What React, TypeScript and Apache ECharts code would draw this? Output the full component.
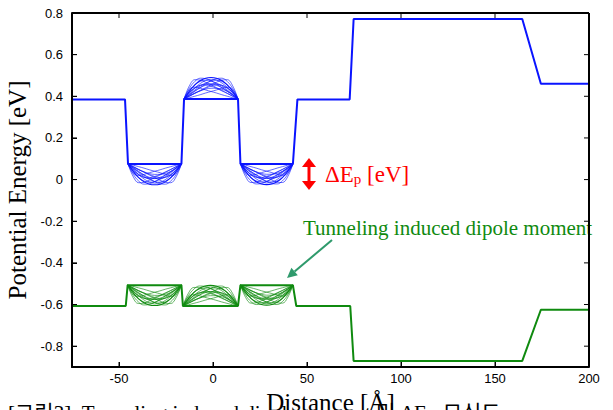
import React, { useEffect, useRef } from "react";
import * as echarts from "echarts";

// Main band profiles [distance Å, energy eV]
const blueBand: [number, number][] = [
  [-75, 0.385], [-46.8, 0.385], [-45.2, 0.075], [-16.8, 0.075], [-15.4, 0.387],
  [13.3, 0.387], [14.6, 0.075], [42.5, 0.075], [44.9, 0.385], [72.7, 0.385],
  [74.8, 0.771], [164.5, 0.771], [174.4, 0.46], [200, 0.46],
];
const greenBand: [number, number][] = [
  [-75, -0.607], [-46.4, -0.607], [-45.4, -0.507], [-16.8, -0.507], [-16, -0.607],
  [13.3, -0.607], [14.6, -0.507], [42.5, -0.507], [44.3, -0.607], [73, -0.607],
  [74.8, -0.871], [164.5, -0.871], [174.4, -0.625], [200, -0.625],
];

// Bowls / humps of the tunneling wavefunction family: [x0, x1, base, extreme]
const blueBowls: [number, number, number, number][] = [
  [-45.2, -16.8, 0.075, -0.025],
  [-15.4, 13.3, 0.387, 0.49],
  [14.6, 42.5, 0.075, -0.024],
];
const greenBowls: [number, number, number, number][] = [
  [-45.4, -16.8, -0.507, -0.605],
  [-16, 13.3, -0.607, -0.508],
  [14.6, 42.5, -0.507, -0.603],
];

// Normalised arc profiles (11 samples across each bowl)
const envelope = [0, 0.36, 0.66, 0.86, 0.97, 1, 0.97, 0.86, 0.66, 0.36, 0];
const arcA = [0, 0.5, 0.82, 0.97, 0.95, 0.85, 0.7, 0.53, 0.36, 0.18, 0];
const arcB = [0, 0.62, 0.9, 0.88, 0.78, 0.66, 0.53, 0.4, 0.27, 0.13, 0];
const arcC = [0, 0.28, 0.52, 0.72, 0.86, 0.92, 0.88, 0.75, 0.55, 0.3, 0];
const arcD = [0, 0.38, 0.66, 0.82, 0.88, 0.84, 0.74, 0.6, 0.42, 0.22, 0];
const arcE = [0, 0.2, 0.38, 0.53, 0.64, 0.7, 0.7, 0.64, 0.5, 0.28, 0];
const arcF = [0, 0.3, 0.52, 0.64, 0.66, 0.6, 0.5, 0.38, 0.26, 0.13, 0];
const arcG = [0, 0.15, 0.28, 0.38, 0.46, 0.5, 0.5, 0.45, 0.36, 0.2, 0];
const arcH = [0, 0.45, 0.55, 0.5, 0.42, 0.35, 0.28, 0.2, 0.13, 0.06, 0];

const xMin = -75;
const xMax = 200;
const yMin = -0.9;
const yMax = 0.8;
const xTicks = [-50, 0, 50, 100, 150, 200];
const yTicks = [-0.8, -0.6, -0.4, -0.2, 0, 0.2, 0.4, 0.6, 0.8];

const BLUE = "#0a14ff";
const GREEN = "#0f8a0f";

const W = 613;
const H = 410;

function rev(a: number[]) {
  return a.slice().reverse();
}

const arcProfiles = [
  arcA, rev(arcA), arcB, rev(arcB), arcC, arcD, rev(arcD), arcE, rev(arcE),
  arcF, rev(arcF), arcG, arcH, rev(arcH),
];

function bowlSeries(bowls: [number, number, number, number][], color: string) {
  const out: any[] = [];
  bowls.forEach(([x0, x1, base, ext]) => {
    const amp = ext - base;
    const mk = (p: number[]) =>
      p.map((v, i) => [x0 + ((x1 - x0) * i) / (p.length - 1), base + amp * v]);
    out.push({
      type: "line", data: mk(envelope), smooth: 0.4, symbol: "none",
      lineStyle: { color, width: 1.1 }, silent: true, z: 3,
    });
    arcProfiles.forEach((p) =>
      out.push({
        type: "line", data: mk(p), smooth: 0.4, symbol: "none",
        lineStyle: { color, width: 0.7, opacity: 0.9 }, silent: true, z: 2,
      })
    );
  });
  return out;
}

export default function App() {
  const ref = useRef<HTMLDivElement>(null);
  useEffect(() => {
    if (!ref.current) return;
    const chart = echarts.init(ref.current, undefined, { renderer: "svg" });
    const serif = "'Liberation Serif', 'Times New Roman', serif";
    const sans = "'Liberation Sans', Arial, sans-serif";
    const axisLine = { show: true, onZero: false, lineStyle: { color: "#000", width: 2 } };
    const tick = { inside: true, length: 5, lineStyle: { color: "#000", width: 1 } };
    chart.setOption({
      animation: false,
      grid: {
        left: 72, right: 24, top: 13, bottom: 43,
        containLabel: false, outerBoundsMode: "none",
      },
      xAxis: [
        {
          type: "value", min: xMin, max: xMax, position: "bottom",
          axisLine,
          axisTick: { ...tick, customValues: xTicks },
          axisLabel: {
            customValues: xTicks, color: "#000", fontSize: 13, fontFamily: sans, margin: 5,
            formatter: (v: number) => String(v),
          },
          splitLine: { show: false },
          name: "Distance [Å]", nameLocation: "middle", nameGap: 17,
          nameTextStyle: { color: "#000", fontSize: 25, fontFamily: serif, verticalAlign: "top" },
        },
      ],
      yAxis: [
        {
          type: "value", min: yMin, max: yMax, position: "left",
          axisLine,
          axisTick: { ...tick, customValues: yTicks },
          axisLabel: {
            customValues: yTicks, color: "#000", fontSize: 13, fontFamily: sans, margin: 9,
            formatter: (v: number) => String(v),
          },
          splitLine: { show: false },
          name: "Potential Energy [eV]", nameLocation: "middle", nameGap: 36,
          nameTextStyle: { color: "#000", fontSize: 25, fontFamily: serif },
        },
      ],
      series: [
        {
          type: "line", data: blueBand, symbol: "none",
          lineStyle: { color: BLUE, width: 2 }, z: 4,
        },
        {
          type: "line", data: greenBand, symbol: "none",
          lineStyle: { color: GREEN, width: 2 }, z: 4,
        },
        ...bowlSeries(blueBowls, BLUE),
        ...bowlSeries(greenBowls, GREEN),
      ],
    });

    // Box frame and inward ticks on all four sides, placed through the axes' own scales
    const px = (v: number) => Number(chart.convertToPixel({ xAxisIndex: 0 }, v));
    const py = (v: number) => Number(chart.convertToPixel({ yAxisIndex: 0 }, v));
    const L = px(xMin), R = px(xMax), T = py(yMax), B = py(yMin);
    const tl = 5;
    const edge = { stroke: "#000", lineWidth: 2 };
    const tk = { stroke: "#000", lineWidth: 1 };
    const frame: any[] = [];
    if ([L, R, T, B].every((v) => Number.isFinite(v))) {
      frame.push(
        { type: "line", shape: { x1: L, y1: T, x2: R, y2: T }, style: edge, z: 10 },
        { type: "line", shape: { x1: L, y1: B, x2: R, y2: B }, style: edge, z: 10 },
        { type: "line", shape: { x1: L, y1: T, x2: L, y2: B }, style: edge, z: 10 },
        { type: "line", shape: { x1: R, y1: T, x2: R, y2: B }, style: edge, z: 10 }
      );
      xTicks.forEach((v) => {
        const x = px(v);
        frame.push({ type: "line", shape: { x1: x, y1: B, x2: x, y2: B - tl }, style: tk, z: 10 });
        frame.push({ type: "line", shape: { x1: x, y1: T, x2: x, y2: T + tl }, style: tk, z: 10 });
      });
      yTicks.forEach((v) => {
        const y = py(v);
        frame.push({ type: "line", shape: { x1: L, y1: y, x2: L + tl, y2: y }, style: tk, z: 10 });
        frame.push({ type: "line", shape: { x1: R, y1: y, x2: R - tl, y2: y }, style: tk, z: 10 });
      });
    }

    chart.setOption({
      graphic: [
        ...frame,
        { type: "line", shape: { x1: 309, y1: 165, x2: 309, y2: 183 }, style: { stroke: "#ff0000", lineWidth: 3 } },
        { type: "polygon", shape: { points: [[302, 167], [316, 167], [309, 158]] }, style: { fill: "#ff0000" } },
        { type: "polygon", shape: { points: [[302, 181], [316, 181], [309, 190]] }, style: { fill: "#ff0000" } },
        {
          type: "text", x: 325, y: 174,
          style: {
            text: "{a|ΔE}{s|p}{a| [eV]}",
            verticalAlign: "middle",
            rich: {
              a: { fontSize: 23, fontFamily: serif, fill: "#ff0000", color: "#ff0000" },
              s: { fontSize: 15, fontFamily: serif, fill: "#ff0000", color: "#ff0000", padding: [10, 0, 0, 0] },
            },
          },
        },
        {
          type: "text", x: 303, y: 228,
          style: {
            text: "Tunneling induced dipole moment", fill: GREEN,
            font: `21px ${serif}`, verticalAlign: "middle",
          },
        },
        { type: "line", shape: { x1: 332, y1: 240, x2: 294.6, y2: 271.5 }, style: { stroke: "#2f9a6c", lineWidth: 2 } },
        {
          type: "polygon",
          shape: { points: [[297.8, 275.3], [291.4, 267.7], [287, 278]] },
          style: { fill: "#2f9a6c" },
        },
        {
          type: "text", x: 8, y: 402,
          style: {
            text: "[그림3]. Tunneling induced dipole moment 및 ΔEp 모식도", fill: "#000",
            font: `21px ${serif}, 'Noto Sans CJK KR'`, verticalAlign: "top",
          },
        },
      ],
    });
    return () => chart.dispose();
  }, []);
  return (
    <div
      ref={ref}
      style={{ position: "fixed", left: 0, top: 0, width: W, height: H, background: "#fff" }}
    />
  );
}
